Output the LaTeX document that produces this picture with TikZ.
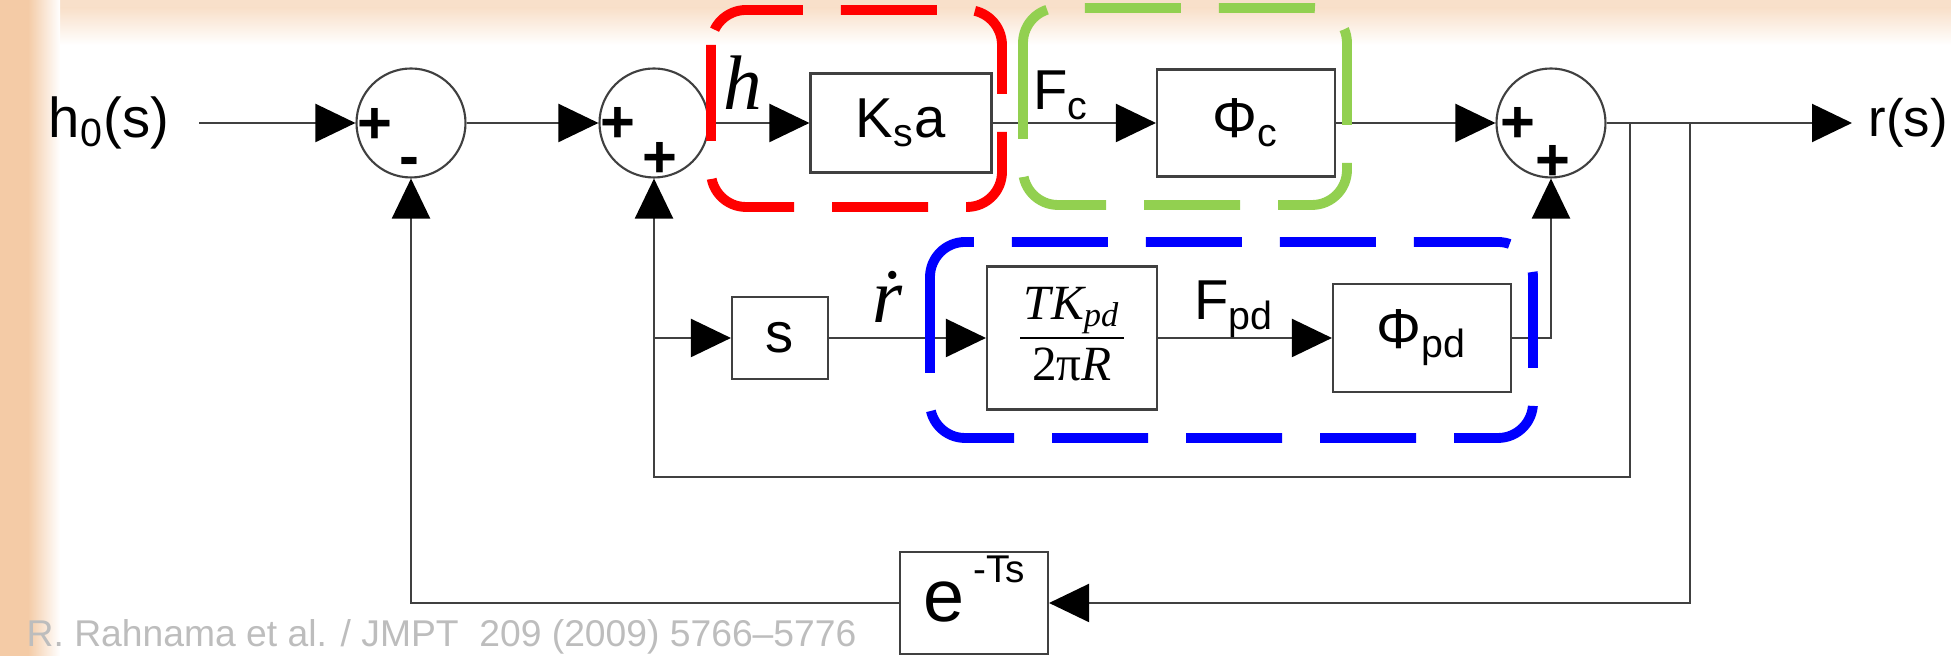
\documentclass[tikz,border=0pt]{standalone}
\usepackage{fontspec}
\setmainfont{Liberation Sans}
\newfontfamily\timesfont{Liberation Serif}
\usetikzlibrary{arrows.meta}
\definecolor{grpred}{HTML}{FF0000}
\definecolor{grpgreen}{HTML}{92D050}
\definecolor{grpblue}{HTML}{0000FF}
\definecolor{peach}{HTML}{F4CBA6}
\definecolor{citegray}{HTML}{BDBDBD}

\begin{document}
\begin{tikzpicture}[x=0.1mm, y=-0.1mm,
        blk/.style={draw=black!75, line width=0.6pt, fill=white, inner sep=0pt, font=\fontsize{16}{19}\selectfont},
        sum/.style={draw=black!75, line width=0.6pt, circle, minimum size=1.09cm, inner sep=0pt},
        sgn/.style={inner sep=0pt, font=\bfseries\fontsize{17}{17}\selectfont},
        io/.style={inner sep=0pt, font=\fontsize{16}{19}\selectfont},
        lab/.style={anchor=base, inner sep=0pt, font=\fontsize{16}{19}\selectfont},
        ital/.style={anchor=base, inner sep=0pt, font=\timesfont\itshape\fontsize{22}{24}\selectfont},
        arr/.style={draw=black!75, line width=0.6pt, -{Triangle[length=4mm, width=3.8mm, color=black, fill=black]}},
        grp/.style={line width=2.8pt, rounded corners=3.5mm, dash pattern=on 9.6mm off 3.8mm}]
      \useasboundingbox (0,0) rectangle (1951,656);
      % slide background
      \fill[white] (0,0) rectangle (1951,656);
      \fill[peach!60] (0,0) rectangle (1951,8);
      \shade[top color=peach!60, bottom color=white] (0,8) rectangle (1951,45);
      \fill[peach] (0,0) rectangle (28,656);
      \shade[left color=peach, right color=white] (28,0) rectangle (60,656);

      % main loop
      \node[io, anchor=east, inner xsep=2.9mm] (in) at (199,123) {h\textsubscript{0}(s)};
      \node[sum] (s1) at (411,123) {};
      \node[sgn] (s1a) at (375,126) {+};
      \node[sgn] (s1b) at (409,167) {-};
      \node[sum] (s2) at (654,123) {};
      \node[sgn] (s2a) at (618,125) {+};
      \node[sgn] (s2b) at (660,160) {+};
      \node[blk, minimum width=1.81cm, minimum height=0.99cm] (ksa) at (901,123) {K\textsubscript{s}a};
      \node[blk, minimum width=1.78cm, minimum height=1.07cm] (phic) at (1246,123) {Φ\textsubscript{c}};
      \node[sum] (s3) at (1551,123) {};
      \node[sgn] (s3a) at (1518,125) {+};
      \node[sgn] (s3b) at (1553,163) {+};
      \node[io, anchor=west, inner xsep=1.6mm, font=\fontsize{15}{18}\selectfont] (out) at (1852,123) {r(s)};

      % inner loop and delay
      \node[blk, minimum width=0.96cm, minimum height=0.82cm] (sblk) at (780,338) {s};
      \node[blk, minimum width=1.70cm, minimum height=1.43cm] (tk) at (1072,338)
        {\timesfont\itshape\fontsize{14}{17}\selectfont\setlength{\tabcolsep}{1pt}%
         \begin{tabular}{c}TK\textsubscript{pd}\\ \hline {\upshape 2π}R\end{tabular}};
      \node[blk, minimum width=1.78cm, minimum height=1.08cm] (phipd) at (1422,338) {Φ\textsubscript{pd}};
      \node[blk, minimum width=1.48cm, minimum height=1.02cm, text depth=8pt] (del) at (974,603)
        {{\fontsize{21}{21}\selectfont e}\,\raisebox{11pt}{\fontsize{11}{11}\selectfont -Ts}};
      \node[anchor=base west, inner sep=0pt, text=citegray, font=\fontsize{10.6}{12}\selectfont] (cite) at (26,647)
        {R. Rahnama et al. / JMPT\ \ 209 (2009) 5766–5776};

      \coordinate (br1) at (1630,123);
      \coordinate (br2) at (1690,123);
      \coordinate (fb1) at (1630,477);
      \coordinate (br3) at (654,338);

      \draw[arr] (in) -- (s1);
      \draw[arr] (s1) -- (s2);
      \draw[arr] (s2) -- node[ital, pos=0.33, yshift=1.3mm] (hlab) {h} (ksa);
      \draw[arr] (ksa) -- node[lab, pos=0.42, yshift=1.3mm] (fclab) {F\textsubscript{c}} (phic);
      \draw[arr] (phic) -- (s3);
      \draw[arr] (s3) -- (out);
      \draw[arr] (br1) -- (fb1) -| (s2.south);
      \draw[arr] (br3) -- (sblk);
      \draw[arr] (sblk) -- node[ital, pos=0.37, yshift=1.5mm] (rdot) {ṙ} (tk);
      \draw[arr] (tk) -- node[lab, pos=0.44, yshift=1.8mm] (fpdlab) {F\textsubscript{pd}} (phipd);
      \draw[arr] (phipd) -| (s3.south);
      \draw[arr] (br2) |- (del);
      \draw[arr] (del) -| (s1.south);

      % highlighted groups
      \draw[grp, grpred] (711,10) rectangle (1002,207);
      \draw[grp, grpgreen] (1023,8) rectangle (1347,205);
      \draw[grp, grpblue] (930,242) rectangle (1533,438);
      \end{tikzpicture}
\end{document}
